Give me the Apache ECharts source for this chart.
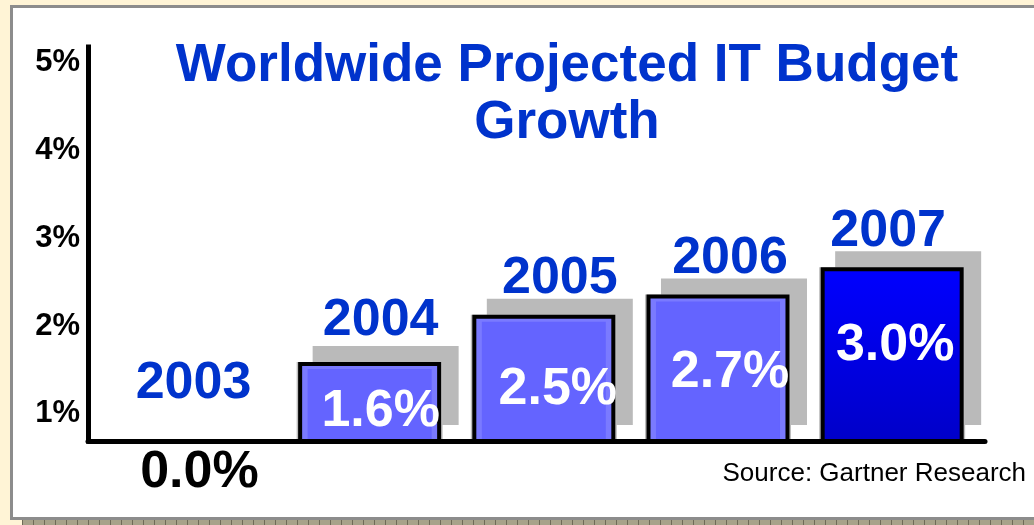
<!DOCTYPE html>
<html>
<head>
<meta charset="utf-8">
<script src="https://cdn.jsdelivr.net/npm/echarts@6/dist/echarts.min.js"></script>
<style>
  html, body { margin: 0; padding: 0; background: #fff4d6; width: 1034px; height: 525px; overflow: hidden; }
  #panel { position: absolute; left: 10px; top: 5px; width: 1030px; height: 509px; background: #ffffff;
           border-left: 3px solid #8c8c8c; border-top: 3px solid #8c8c8c; border-bottom: 3px solid #8c8c8c; }
  #strip { position: absolute; left: 22px; top: 520px; width: 1012px; height: 5px;
           background: repeating-linear-gradient(90deg, #6f6a58 0px, #6f6a58 1px, #a8a28a 1px, #a8a28a 11px); }
  #chart { position: absolute; left: 0; top: 0; width: 1034px; height: 525px; }
</style>
</head>
<body>
<div id="panel"></div>
<div id="strip"></div>
<div id="chart"></div>
<script>
// ---- data ----
const categories  = ['2003', '2004', '2005', '2006', '2007'];
const barHeights  = [0.69, 1.59, 2.13, 2.36, 2.67];      // bar tops as drawn against the % axis
const valueLabels = ['0.0%', '1.6%', '2.5%', '2.7%', '3.0%'];
const yTickValues = [1, 2, 3, 4, 5];
const titleText   = 'Worldwide Projected IT Budget\nGrowth';
const sourceText  = 'Source: Gartner Research';

// ---- styling / layout ----
const FONT = '"Liberation Sans", Arial, sans-serif';
const BLUE = '#0033cc';
const yMin = 0.69, yMax = 5.18;
const xMin = -0.617, xMax = 4.533;
const innerInset = 0.08;
const LAST = categories.length - 1;

const yearLabelTweak = [
  { distance: 10, offset: [-2, -21] },
  { distance: 10, offset: [11, -5] },
  { distance: 10, offset: [16, 0] },
  { distance: 10, offset: [12, 0] },
  { distance: 10, offset: [-4, 0] }
];
const valueLabelTweak = [
  { position: 'bottom', distance: 0, offset: [4, 6], color: '#000000' },
  { position: 'inside', offset: [11, 7], color: '#ffffff' },
  { position: 'inside', offset: [14, 8], color: '#ffffff' },
  { position: 'inside', offset: [12, 1], color: '#ffffff' },
  { position: 'inside', offset: [3, -12], color: '#ffffff' }
];

// shadow caster (hidden under the bar, its shadow falls up-right)
const shadowData = categories.map((c, i) => {
  const item = { value: [i, barHeights[i]] };
  if (i === 0) item.itemStyle = { color: 'transparent', shadowColor: 'transparent' };
  return item;
});

const outerData = categories.map((c, i) => {
  const item = { value: [i, barHeights[i]], label: yearLabelTweak[i] };
  if (i === 0) {
    item.itemStyle = { color: 'transparent', borderWidth: 0 };
  } else if (i === LAST) {
    item.itemStyle = {
      color: { type: 'linear', x: 0, y: 0, x2: 0, y2: 1,
               colorStops: [{ offset: 0, color: '#0000ff' }, { offset: 1, color: '#0000c8' }] }
    };
  }
  return item;
});

const innerData = categories.map((c, i) => {
  const v = i === 0 ? barHeights[i] : Math.max(barHeights[i] - innerInset, yMin);
  const item = { value: [i, v], label: valueLabelTweak[i] };
  if (i === 0 || i === LAST) item.itemStyle = { color: 'transparent' };
  return item;
});

const hiddenX = () => ({ type: 'value', min: xMin, max: xMax, show: false, splitLine: { show: false } });

const chart = echarts.init(document.getElementById('chart'), null, { renderer: 'canvas' });
chart.setOption({
  animation: false,
  backgroundColor: 'transparent',
  grid: { left: 88, right: 49, top: 47, bottom: 84 },
  xAxis: [
    { type: 'value', min: xMin, max: xMax, z: 10,
      axisLine: { show: true, onZero: false, lineStyle: { color: '#000', width: 5 } },
      axisTick: { show: false }, axisLabel: { show: false }, splitLine: { show: false } },
    hiddenX(),
    hiddenX()
  ],
  yAxis: {
    type: 'value', min: yMin, max: yMax,
    axisLine: { show: true, onZero: false, lineStyle: { color: '#000', width: 5, cap: 'square' } },
    axisTick: { show: false },
    splitLine: { show: false },
    axisLabel: {
      customValues: yTickValues,
      formatter: v => v + '%',
      color: '#000', fontFamily: FONT, fontWeight: 'bold', fontSize: 31, margin: 8
    }
  },
  graphic: [
    { type: 'text', x: 567, y: 38, z: 100,
      style: { text: titleText, fill: BLUE, font: 'bold 53px ' + FONT, align: 'center',
               verticalAlign: 'top', lineHeight: 57 } },
    { type: 'text', x: 1026, y: 474, z: 100,
      style: { text: sourceText, fill: '#000', font: '26px ' + FONT, align: 'right',
               verticalAlign: 'middle' } }
  ],
  series: [
    {
      type: 'bar', xAxisIndex: 2, barWidth: 146, data: shadowData, silent: true,
      itemStyle: { color: '#bdbdbd', shadowColor: '#bababa', shadowBlur: 0,
                   shadowOffsetX: 16, shadowOffsetY: -16 },
      z: 1
    },
    {
      type: 'bar', xAxisIndex: 0, barWidth: 143, data: outerData,
      itemStyle: { color: '#7a7aff', borderColor: '#000', borderWidth: 4 },
      label: { show: true, position: 'top', formatter: p => categories[p.dataIndex],
               color: BLUE, fontFamily: FONT, fontWeight: 'bold', fontSize: 52 },
      z: 2
    },
    {
      type: 'bar', xAxisIndex: 1, barWidth: 124, data: innerData,
      itemStyle: { color: '#6464ff' },
      label: { show: true, formatter: p => valueLabels[p.dataIndex],
               fontFamily: FONT, fontWeight: 'bold', fontSize: 52 },
      z: 3
    }
  ]
});
</script>
</body>
</html>
